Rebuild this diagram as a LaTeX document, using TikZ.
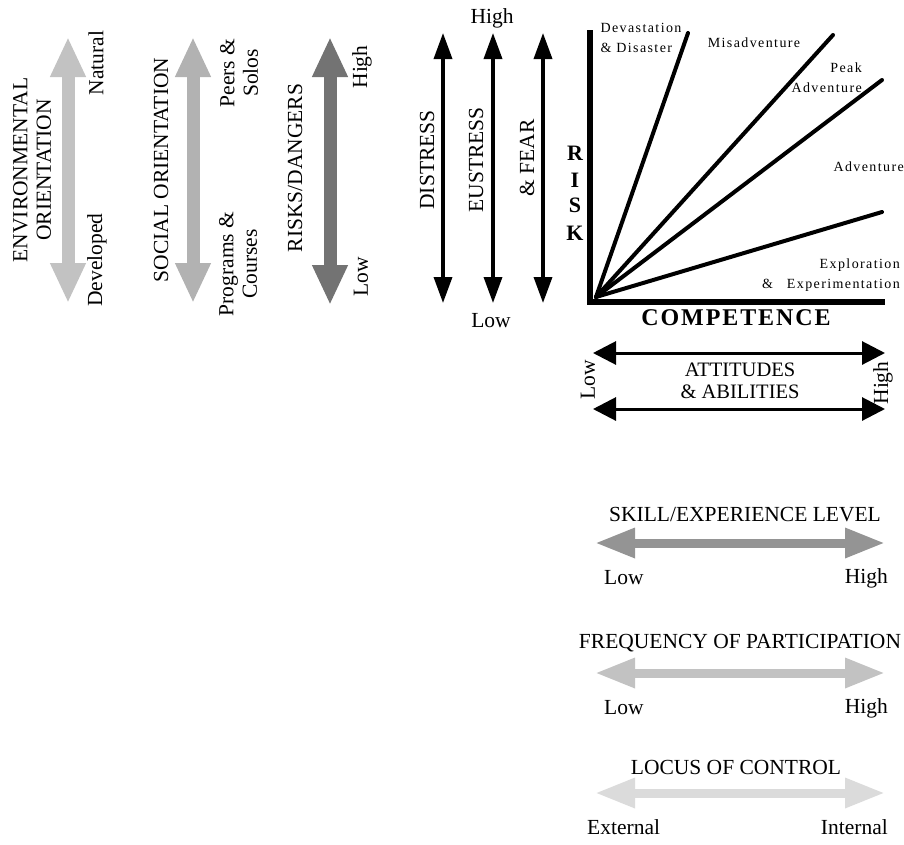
\documentclass[tikz,border=0pt]{standalone}
\usepackage{fontspec}
\setmainfont{Liberation Serif}
\usetikzlibrary{arrows.meta}

\definecolor{envgray}{gray}{0.76}
\definecolor{socgray}{gray}{0.70}
\definecolor{riskgray}{gray}{0.45}
\definecolor{skillgray}{gray}{0.58}
\definecolor{freqgray}{gray}{0.76}
\definecolor{locusgray}{gray}{0.86}

\begin{document}
\begin{tikzpicture}[x=1pt, y=-1pt,
    bigtext/.style={font=\fontsize{21.5}{23.5}\selectfont, inner sep=0pt},
    zonetext/.style={font=\fontsize{14}{20}\selectfont\addfontfeature{LetterSpace=10}, inner sep=0pt},
    fatarrow/.style={line width=13pt, >={Triangle[length=40pt,width=33pt]}, <->},
    flatarrow/.style={line width=9pt, >={Triangle[length=40pt,width=28pt]}, <->},
    stickarrow/.style={line width=3.5pt, >={Triangle[length=26pt,width=18pt]}, <->},
    ray/.style={line width=4pt, line cap=round}
]
    \useasboundingbox (0,0) rectangle (904,844);

    % orientation arrows
    \coordinate (envT) at (68,37);   \coordinate (envB) at (68,303);
    \coordinate (socT) at (193,37);  \coordinate (socB) at (193,303);
    \coordinate (rskT) at (330,37);  \coordinate (rskB) at (330,305);
    \draw[fatarrow, envgray] (envB) -- (envT);
    \draw[fatarrow, socgray] (socB) -- (socT);
    \draw[fatarrow, riskgray] (rskB) -- (rskT);

    \node[bigtext, rotate=90, align=center] (envlab) at (32,170) {ENVIRONMENTAL\\ORIENTATION};
    \node[bigtext, rotate=90] (natural) at (96,63) {Natural};
    \node[bigtext, rotate=90] (developed) at (97,260) {Developed};

    \node[bigtext, rotate=90] (soclab) at (161,170) {SOCIAL ORIENTATION};
    \node[bigtext, rotate=90, align=center] (peers) at (239,73) {Peers \&\\Solos};
    \node[bigtext, rotate=90, align=center] (programs) at (238,264) {Programs \&\\Courses};

    \node[bigtext, rotate=90] (rsklab) at (295,168) {RISKS/DANGERS};
    \node[bigtext, rotate=90] (rskhigh) at (362,67) {High};
    \node[bigtext, rotate=90] (rsklow) at (361,277) {Low};

    % stress arrows
    \coordinate (disT) at (443,33);  \coordinate (disB) at (443,303);
    \coordinate (eusT) at (493,33);  \coordinate (eusB) at (493,303);
    \coordinate (feaT) at (543,33);  \coordinate (feaB) at (543,303);
    \draw[stickarrow] (disB) -- (disT);
    \draw[stickarrow] (eusB) -- (eusT);
    \draw[stickarrow] (feaB) -- (feaT);

    \node[bigtext] (strhigh) at (492,18) {High};
    \node[bigtext] (strlow) at (491,321) {Low};
    \node[bigtext, rotate=90] (distress) at (427,160) {DISTRESS};
    \node[bigtext, rotate=90] (eustress) at (476,160) {EUSTRESS};
    \node[bigtext, rotate=90] (fear) at (527,158) {\& FEAR};

    % risk / competence chart
    \coordinate (riskT) at (590,30);
    \coordinate (corner) at (590,302);
    \coordinate (compR) at (885,302);
    \draw[line width=6pt, line join=miter] (riskT) -- (corner) -- (compR);

    \coordinate (O) at (596,297);
    \coordinate (devE) at (688,33);
    \coordinate (misE) at (833,35);
    \coordinate (peakE) at (882,80);
    \coordinate (advE) at (882,212);
    \draw[ray] (O) -- (devE);
    \draw[ray] (O) -- (misE);
    \draw[ray] (O) -- (peakE);
    \draw[ray] (O) -- (advE);

    \foreach \ch/\yy in {R/153, I/180, S/205, K/233}
        \node[font=\fontsize{22}{22}\selectfont\bfseries, inner sep=0pt] (risk\ch) at (575,\yy) {\ch};
    \node[font=\fontsize{24}{24}\selectfont\bfseries\addfontfeature{LetterSpace=8}, inner sep=0pt] (competence) at (736,318) {COMPETENCE};

    \node[zonetext, align=left] (devlab) at (641,38) {Devastation\\\& Disaster};
    \node[zonetext] (mislab) at (754,43) {Misadventure};
    \node[zonetext, align=right, anchor=east] (peaklab) at (862,78) {Peak\\Adventure};
    \node[zonetext, anchor=east] (advlab) at (904,167) {Adventure};
    \node[zonetext, align=right, anchor=east] (explab) at (900,275) {Exploration\\\&\quad Experimentation};

    % attitudes and abilities
    \coordinate (attTL) at (593,353);  \coordinate (attTR) at (885,353);
    \coordinate (attBL) at (593,409);  \coordinate (attBR) at (885,409);
    \draw[line width=3pt, >={Triangle[length=23pt,width=23pt]}, <->] (attTL) -- (attTR);
    \draw[line width=3pt, >={Triangle[length=23pt,width=23pt]}, <->] (attBL) -- (attBR);
    \node[bigtext, align=center, font=\fontsize{20.5}{22}\selectfont] (attlab) at (740,381) {ATTITUDES\\\& ABILITIES};
    \node[bigtext, rotate=90] (attlow) at (588,380) {Low};
    \node[bigtext, rotate=90] (atthigh) at (883,383) {High};

    % level arrows
    \node[bigtext] (skilllab) at (745,515) {SKILL/EXPERIENCE LEVEL};
    \coordinate (skL) at (595,543);  \coordinate (skR) at (885,543);
    \draw[flatarrow, skillgray] (skL) -- (skR);
    \node[bigtext, anchor=west] (sklow) at (604,578) {Low};
    \node[bigtext, anchor=east] (skhigh) at (888,578) {High};

    \node[bigtext] (freqlab) at (740,643) {FREQUENCY OF PARTICIPATION};
    \coordinate (frL) at (595,673);  \coordinate (frR) at (885,673);
    \draw[flatarrow, freqgray] (frL) -- (frR);
    \node[bigtext, anchor=west] (frlow) at (604,708) {Low};
    \node[bigtext, anchor=east] (frhigh) at (888,708) {High};

    \node[bigtext] (locuslab) at (736,767) {LOCUS OF CONTROL};
    \coordinate (loL) at (595,793);  \coordinate (loR) at (885,793);
    \draw[flatarrow, locusgray] (loL) -- (loR);
    \node[bigtext, anchor=west] (loext) at (587,827) {External};
    \node[bigtext, anchor=east] (loint) at (888,827) {Internal};

\end{tikzpicture}
\end{document}
